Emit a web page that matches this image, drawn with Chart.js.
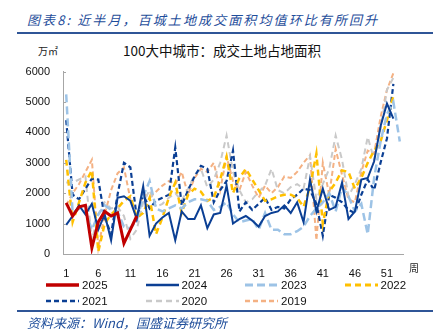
<!DOCTYPE html>
<html>
<head>
<meta charset="utf-8">
<script src="https://cdn.jsdelivr.net/npm/chart.js@4.4.1/dist/chart.umd.min.js"></script>
<style>
  html, body { margin: 0; padding: 0; background: #fff; }
  body { width: 439px; height: 334px; position: relative; overflow: hidden; font-family: "Liberation Sans", sans-serif; }
  .hd { position: absolute; left: 27px; top: 10px; font: italic 13px "Noto Sans CJK SC", sans-serif; letter-spacing: 2.1px; color: #1f4e9b; white-space: nowrap; }
  .rule { position: absolute; left: 17px; width: 416px; height: 2px; background: #2f5597; }
  .unit { position: absolute; left: 38px; top: 43px; font: 10px "Noto Sans CJK SC", sans-serif; color: #222; }
  .ctitle { position: absolute; left: 0; width: 444px; text-align: center; top: 40px; font: 13.5px "Noto Sans CJK SC", sans-serif; color: #111; }
  .week { position: absolute; left: 409px; top: 260px; font: 10px "Noto Sans CJK SC", sans-serif; color: #222; }
  .src { position: absolute; left: 27px; top: 313px; font: italic 13px "Noto Sans CJK SC", sans-serif; color: #1f4e9b; white-space: nowrap; }
  #wrap { position: absolute; left: 0; top: 60px; width: 439px; height: 230px; }
  .lg { position: absolute; display: flex; align-items: center; font: 11.5px "Liberation Sans", sans-serif; color: #111; }
  .lg svg { margin-right: 3px; }
</style>
</head>
<body>
<div class="hd">图表8: 近半月，百城土地成交面积均值环比有所回升</div>
<div class="rule" style="top:32px"></div>
<div class="unit">万㎡</div>
<div class="ctitle">100大中城市：成交土地占地面积</div>
<div id="wrap"><canvas id="c"></canvas></div>
<div class="week">周</div>
<div id="legend"></div>
<div class="rule" style="top:310px"></div>
<div class="src">资料来源：Wind，国盛证券研究所</div>
<script>
"use strict";

var weeks = ["1", "2", "3", "4", "5", "6", "7", "8", "9", "10", "11", "12", "13", "14", "15", "16", "17", "18",
    "19", "20", "21", "22", "23", "24", "25", "26", "27", "28", "29", "30", "31", "32", "33", "34", "35", "36",
    "37", "38", "39", "40", "41", "42", "43", "44", "45", "46", "47", "48", "49", "50", "51", "52", "53"];

var yTicks = [0, 1000, 2000, 3000, 4000, 5000, 6000];

var v2025 = [1680, 1250, 1550, 1600, 200, 1050, 1400, 1250, 1350, 350, 800, 1250];
var v2024 = [960, 1250, 1600, 1300, 1650, 800, 1300, 450, 1850, 1900, 1750, 1150, 2230, 600, 1000, 1200, 1350, 450,
    1400, 1150, 1150, 1600, 850, 1300, 1350, 2250, 1000, 1150, 1250, 1100, 900, 1250, 1350, 1400, 1600, 1350,
    1700, 1050, 2450, 1400, 2150, 1450, 1550, 2350, 1150, 1400, 2450, 2500, 3050, 4200, 4950, 4450];
var v2023 = [5250, 1350, 1500, 1400, 800, 1300, 1600, 1450, 1400, 900, 850, 1100, 1900, 2400, 1500, 1400, 1500, 1600,
    1500, 1700, 1800, 1800, 1750, 1450, 1550, 1700, 1300, 1050, 1100, 1150, 800, 1350, 800, 800, 650, 650,
    750, 900, 1250, 1500, 1700, 2000, 1400, 2200, 1900, 1400, 1650, 650, 2500, 3700, 4600, 5000, 3700];
var v2022 = [3100, 1050, 1700, 2350, 2750, 80, 1000, 1300, 1500, 1750, 1900, 1200, 1350, 1850, 650, 1200, 1850, 2350,
    1350, 1950, 2150, 2050, 1750, 1850, 2450, 3200, 2000, 2500, 2800, 2450, 2100, 1750, 1800, 1900, 1950, 1950,
    1850, 1550, 2200, 3300, 1000, 2050, 2350, 2750, 2700, 2150, 2500, 3000, 3400, 3700, 4400, 5200];
var v2021 = [4400, 1950, 1800, 2150, 2480, 2450, 1200, 650, 1950, 3000, 2850, 1200, 1950, 1500, 1750, 1850, 1950, 3500,
    1600, 2100, 2550, 2900, 2800, 1700, 2100, 2400, 3400, 1400, 1700, 1450, 1650, 1850, 1450, 1550, 1500, 1800,
    1950, 2150, 2100, 1650, 600, 1950, 1850, 1700, 1450, 1350, 1950, 2450, 2100, 3000, 3800, 5600];
var v2020 = [2350, 2350, 2450, 2550, 450, 1300, 1700, 1500, 1550, 1250, 500, 800, 1700, 2100, 1550, 1650, 1850, 2000,
    1750, 2150, 2600, 2800, 2200, 2450, 3000, 3900, 2700, 2100, 1700, 1800, 2050, 2250, 2800, 2100, 2000, 2200,
    2300, 2150, 3200, 1800, 2300, 2800, 3900, 3100, 1900, 2300, 2800, 3850, 3100, 4100, 5400, 5800];
var v2019 = [1600, 2000, 2300, 2700, 3100, 200, 1300, 2100, 2650, 2850, 1800, 1200, 2000, 1850, 2050, 2250, 2400, 2300,
    2700, 1950, 2500, 2800, 2700, 3000, 2100, 3200, 2400, 2100, 2700, 2250, 1850, 2250, 2000, 2200, 2550, 2500,
    2700, 3000, 3250, 450, 3000, 1950, 3450, 2600, 1800, 1700, 2700, 3400, 3300, 4500, 5400, 5950];

var seriesNames = ["2025", "2024", "2023", "2022", "2021", "2020", "2019"];
var seriesValues = [v2025, v2024, v2023, v2022, v2021, v2020, v2019];
var seriesColors = ["#c00000", "#0b3f94", "#9dc3e6", "#ffc000", "#0b3f94", "#c9c9c9", "#f4b183"];
var seriesWidths = [3, 2, 2.5, 2.5, 2.2, 2, 2];
var seriesDashes = [[], [], [8, 4], [6, 4], [5, 3], [6, 4], [5, 3]];

function $each(list, fn) {
    for (var i = 0; i < list.length; i++) {
        fn(i, list[i]);
    }
}

var datasets = [];
$each(seriesNames, function (i, name) {
    datasets.push({
        label: name,
        data: seriesValues[i],
        borderColor: seriesColors[i],
        backgroundColor: seriesColors[i],
        borderWidth: seriesWidths[i],
        borderDash: seriesDashes[i],
        pointRadius: 0,
        tension: 0,
        fill: false,
    });
});

// legend: 4 columns, 2 rows
var legend = document.getElementById("legend");
$each(seriesNames, function (i, name) {
    var item = document.createElement("div");
    item.className = "lg";
    item.style.left = (46 + (i % 4) * 99.5) + "px";
    item.style.top = (i < 4 ? 277 : 293) + "px";
    var dash = seriesDashes[i].length ? seriesDashes[i].join(",") : "none";
    item.innerHTML = '<svg width="33" height="16"><line x1="0" y1="8" x2="33" y2="8" stroke="' + seriesColors[i] +
        '" stroke-width="' + (seriesWidths[i] + 0.5) + '" stroke-dasharray="' + dash + '"/></svg>' + name;
    legend.appendChild(item);
});

var innerTicks = {
    id: "innerTicks",
    afterDraw: function (chart) {
        var y = chart.scales.y;
        var ctx = chart.ctx;
        ctx.save();
        ctx.strokeStyle = "#a6a6a6";
        ctx.lineWidth = 1;
        $each(yTicks, function (i, v) {
            var py = Math.round(y.getPixelForValue(v)) + 0.5;
            ctx.beginPath();
            ctx.moveTo(y.right, py);
            ctx.lineTo(y.right + 3, py);
            ctx.stroke();
        });
        ctx.restore();
    },
};

new Chart(document.getElementById("c"), {
    type: "line",
    data: { labels: weeks, datasets: datasets },
    plugins: [innerTicks],
    options: {
        responsive: true,
        maintainAspectRatio: false,
        animation: false,
        layout: { padding: { top: 7, right: 36, left: 0, bottom: 0 } },
        plugins: {
            legend: { display: false },
            tooltip: { enabled: false },
        },
        scales: {
            x: {
                offset: true,
                grid: { display: false },
                border: { color: "#a6a6a6", width: 1 },
                ticks: {
                    autoSkip: false,
                    maxRotation: 0,
                    padding: 5,
                    color: "#111",
                    font: { family: "Liberation Sans", size: 11 },
                    callback: function (val, index) {
                        return index % 5 === 0 ? weeks[index] : "";
                    },
                },
                afterFit: function (scale) {
                    scale.height = 36;
                },
            },
            y: {
                min: 0,
                max: 6000,
                grid: { display: false },
                border: { color: "#a6a6a6", width: 1 },
                ticks: {
                    stepSize: 1000,
                    padding: 5,
                    color: "#111",
                    font: { family: "Liberation Sans", size: 11 },
                    callback: function (val) {
                        return String(val);
                    },
                },
                afterFit: function (scale) {
                    scale.width = 63;
                },
            },
        },
    },
});
</script>
</body>
</html>
